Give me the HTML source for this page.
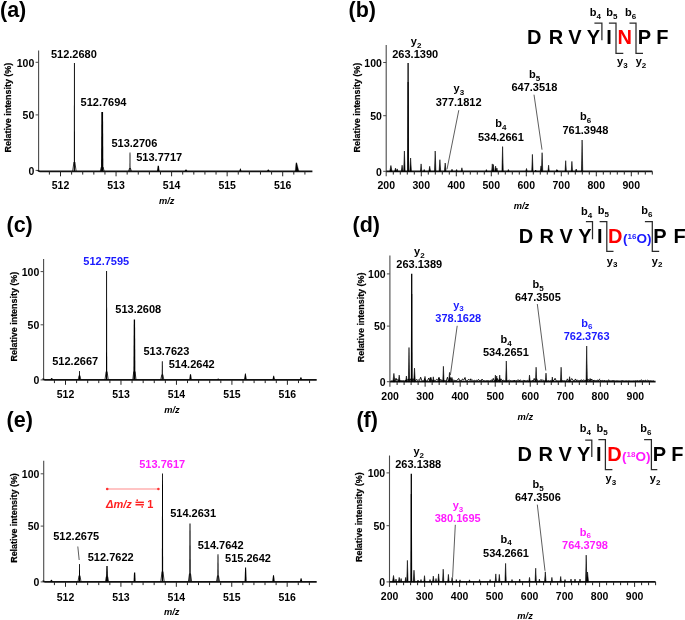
<!DOCTYPE html>
<html><head><meta charset="utf-8"><style>
html,body{margin:0;padding:0;background:#fff;width:685px;height:620px;overflow:hidden}
svg{display:block;will-change:transform}
text{font-family:"Liberation Sans", sans-serif}
</style></head><body>
<svg width="685" height="620" viewBox="0 0 685 620">
<rect width="685" height="620" fill="#fff"/>
<text x="0.00" y="16.60" font-size="21.5" text-anchor="start" fill="#000" font-weight="bold" font-style="normal" >(a)</text>
<line x1="38.60" y1="50.40" x2="38.60" y2="171.30" stroke="#4a4a4a" stroke-width="1.1" />
<line x1="35.60" y1="62.30" x2="38.60" y2="62.30" stroke="#4a4a4a" stroke-width="1.0" />
<text x="34.30" y="66.60" font-size="10.5" text-anchor="end" fill="#000" font-weight="bold" font-style="normal" >100</text>
<line x1="35.60" y1="114.90" x2="38.60" y2="114.90" stroke="#4a4a4a" stroke-width="1.0" />
<text x="34.30" y="119.20" font-size="10.5" text-anchor="end" fill="#000" font-weight="bold" font-style="normal" >50</text>
<line x1="35.60" y1="170.40" x2="38.60" y2="170.40" stroke="#4a4a4a" stroke-width="1.0" />
<text x="34.30" y="174.70" font-size="10.5" text-anchor="end" fill="#000" font-weight="bold" font-style="normal" >0</text>
<path d="M38.05 170.10 Q38.05 171.30 39.80 171.30 H312.40" stroke="#111" fill="none" stroke-width="1.7" />
<line x1="49.39" y1="171.30" x2="49.39" y2="174.60" stroke="#222" stroke-width="1.0" />
<line x1="60.50" y1="171.30" x2="60.50" y2="176.30" stroke="#222" stroke-width="1.0" />
<text x="60.50" y="188.90" font-size="10.5" text-anchor="middle" fill="#000" font-weight="bold" font-style="normal" >512</text>
<line x1="71.61" y1="171.30" x2="71.61" y2="174.60" stroke="#222" stroke-width="1.0" />
<line x1="82.72" y1="171.30" x2="82.72" y2="174.60" stroke="#222" stroke-width="1.0" />
<line x1="93.83" y1="171.30" x2="93.83" y2="174.60" stroke="#222" stroke-width="1.0" />
<line x1="104.94" y1="171.30" x2="104.94" y2="174.60" stroke="#222" stroke-width="1.0" />
<line x1="116.05" y1="171.30" x2="116.05" y2="176.30" stroke="#222" stroke-width="1.0" />
<text x="116.05" y="188.90" font-size="10.5" text-anchor="middle" fill="#000" font-weight="bold" font-style="normal" >513</text>
<line x1="127.16" y1="171.30" x2="127.16" y2="174.60" stroke="#222" stroke-width="1.0" />
<line x1="138.27" y1="171.30" x2="138.27" y2="174.60" stroke="#222" stroke-width="1.0" />
<line x1="149.38" y1="171.30" x2="149.38" y2="174.60" stroke="#222" stroke-width="1.0" />
<line x1="160.49" y1="171.30" x2="160.49" y2="174.60" stroke="#222" stroke-width="1.0" />
<line x1="171.60" y1="171.30" x2="171.60" y2="176.30" stroke="#222" stroke-width="1.0" />
<text x="171.60" y="188.90" font-size="10.5" text-anchor="middle" fill="#000" font-weight="bold" font-style="normal" >514</text>
<line x1="182.71" y1="171.30" x2="182.71" y2="174.60" stroke="#222" stroke-width="1.0" />
<line x1="193.82" y1="171.30" x2="193.82" y2="174.60" stroke="#222" stroke-width="1.0" />
<line x1="204.93" y1="171.30" x2="204.93" y2="174.60" stroke="#222" stroke-width="1.0" />
<line x1="216.04" y1="171.30" x2="216.04" y2="174.60" stroke="#222" stroke-width="1.0" />
<line x1="227.15" y1="171.30" x2="227.15" y2="176.30" stroke="#222" stroke-width="1.0" />
<text x="227.15" y="188.90" font-size="10.5" text-anchor="middle" fill="#000" font-weight="bold" font-style="normal" >515</text>
<line x1="238.26" y1="171.30" x2="238.26" y2="174.60" stroke="#222" stroke-width="1.0" />
<line x1="249.37" y1="171.30" x2="249.37" y2="174.60" stroke="#222" stroke-width="1.0" />
<line x1="260.48" y1="171.30" x2="260.48" y2="174.60" stroke="#222" stroke-width="1.0" />
<line x1="271.59" y1="171.30" x2="271.59" y2="174.60" stroke="#222" stroke-width="1.0" />
<line x1="282.70" y1="171.30" x2="282.70" y2="176.30" stroke="#222" stroke-width="1.0" />
<text x="282.70" y="188.90" font-size="10.5" text-anchor="middle" fill="#000" font-weight="bold" font-style="normal" >516</text>
<line x1="293.81" y1="171.30" x2="293.81" y2="174.60" stroke="#222" stroke-width="1.0" />
<line x1="304.92" y1="171.30" x2="304.92" y2="174.60" stroke="#222" stroke-width="1.0" />
<text x="-44.8" y="0" font-size="9.8" textLength="89.6" lengthAdjust="spacingAndGlyphs" font-weight="bold" stroke="#000" stroke-width="0.22" transform="translate(11.30,107.60) rotate(-90)">Relative intensity (%)</text>
<text x="166.70" y="203.70" font-size="9.3" text-anchor="middle" fill="#000" font-weight="bold" font-style="italic" >m/z</text>
<path d="M73.85 171.00 L73.95 63.10 L74.85 63.10 L74.95 171.00Z" fill="#000"/>
<path d="M72.70 171.00 L73.95 162.00 M76.10 171.00 L74.85 162.00" stroke="#000" stroke-width="0.8" fill="none"/>
<path d="M101.05 171.00 L101.35 112.10 L103.05 112.10 L103.35 171.00Z" fill="#000"/>
<path d="M100.30 171.00 L101.35 167.00 M104.10 171.00 L103.05 167.00" stroke="#000" stroke-width="0.8" fill="none"/>
<path d="M129.50 171.00 L129.60 152.60 L130.40 152.60 L130.50 171.00Z" fill="#000"/>
<path d="M128.70 171.00 L129.60 168.00 M131.30 171.00 L130.40 168.00" stroke="#000" stroke-width="0.8" fill="none"/>
<path d="M157.10 171.00 L157.70 165.80 L158.90 165.80 L159.50 171.00Z" fill="#000"/>
<path d="M184.70 171.00 L185.60 169.40 L186.40 169.40 L187.30 171.00Z" fill="#000"/>
<path d="M239.40 171.00 L240.10 168.40 L240.70 168.40 L241.40 171.00Z" fill="#000"/>
<path d="M267.00 171.00 L268.00 169.40 L268.60 169.40 L269.60 171.00Z" fill="#000"/>
<path d="M295.2 171.0 L296.0 162.7 L296.8 162.9 L298.8 171.0 Z" stroke="#000" fill="#000" stroke-width="0.3" />
<text x="73.90" y="57.80" font-size="11" text-anchor="middle" fill="#000" font-weight="bold" font-style="normal" >512.2680</text>
<text x="103.50" y="106.30" font-size="11" text-anchor="middle" fill="#000" font-weight="bold" font-style="normal" >512.7694</text>
<text x="134.40" y="146.90" font-size="11" text-anchor="middle" fill="#000" font-weight="bold" font-style="normal" >513.2706</text>
<text x="159.20" y="161.10" font-size="11" text-anchor="middle" fill="#000" font-weight="bold" font-style="normal" >513.7717</text>
<text x="348.50" y="16.60" font-size="21.5" text-anchor="start" fill="#000" font-weight="bold" font-style="normal" >(b)</text>
<line x1="386.20" y1="45.10" x2="386.20" y2="176.30" stroke="#4a4a4a" stroke-width="1.1" />
<line x1="383.20" y1="62.50" x2="386.20" y2="62.50" stroke="#4a4a4a" stroke-width="1.0" />
<text x="381.90" y="66.80" font-size="10.5" text-anchor="end" fill="#000" font-weight="bold" font-style="normal" >100</text>
<line x1="383.20" y1="115.70" x2="386.20" y2="115.70" stroke="#4a4a4a" stroke-width="1.0" />
<text x="381.90" y="120.00" font-size="10.5" text-anchor="end" fill="#000" font-weight="bold" font-style="normal" >50</text>
<line x1="383.20" y1="171.30" x2="386.20" y2="171.30" stroke="#4a4a4a" stroke-width="1.0" />
<text x="381.90" y="175.60" font-size="10.5" text-anchor="end" fill="#000" font-weight="bold" font-style="normal" >0</text>
<line x1="386.20" y1="171.30" x2="652.30" y2="171.30" stroke="#111" stroke-width="1.7" />
<text x="386.30" y="189.10" font-size="10.5" text-anchor="middle" fill="#000" font-weight="bold" font-style="normal" >200</text>
<line x1="393.30" y1="171.30" x2="393.30" y2="174.60" stroke="#222" stroke-width="1.0" />
<line x1="400.30" y1="171.30" x2="400.30" y2="174.60" stroke="#222" stroke-width="1.0" />
<line x1="407.30" y1="171.30" x2="407.30" y2="174.60" stroke="#222" stroke-width="1.0" />
<line x1="414.30" y1="171.30" x2="414.30" y2="174.60" stroke="#222" stroke-width="1.0" />
<line x1="421.30" y1="171.30" x2="421.30" y2="176.30" stroke="#222" stroke-width="1.0" />
<text x="421.30" y="189.10" font-size="10.5" text-anchor="middle" fill="#000" font-weight="bold" font-style="normal" >300</text>
<line x1="428.30" y1="171.30" x2="428.30" y2="174.60" stroke="#222" stroke-width="1.0" />
<line x1="435.30" y1="171.30" x2="435.30" y2="174.60" stroke="#222" stroke-width="1.0" />
<line x1="442.30" y1="171.30" x2="442.30" y2="174.60" stroke="#222" stroke-width="1.0" />
<line x1="449.30" y1="171.30" x2="449.30" y2="174.60" stroke="#222" stroke-width="1.0" />
<line x1="456.30" y1="171.30" x2="456.30" y2="176.30" stroke="#222" stroke-width="1.0" />
<text x="456.30" y="189.10" font-size="10.5" text-anchor="middle" fill="#000" font-weight="bold" font-style="normal" >400</text>
<line x1="463.30" y1="171.30" x2="463.30" y2="174.60" stroke="#222" stroke-width="1.0" />
<line x1="470.30" y1="171.30" x2="470.30" y2="174.60" stroke="#222" stroke-width="1.0" />
<line x1="477.30" y1="171.30" x2="477.30" y2="174.60" stroke="#222" stroke-width="1.0" />
<line x1="484.30" y1="171.30" x2="484.30" y2="174.60" stroke="#222" stroke-width="1.0" />
<line x1="491.30" y1="171.30" x2="491.30" y2="176.30" stroke="#222" stroke-width="1.0" />
<text x="491.30" y="189.10" font-size="10.5" text-anchor="middle" fill="#000" font-weight="bold" font-style="normal" >500</text>
<line x1="498.30" y1="171.30" x2="498.30" y2="174.60" stroke="#222" stroke-width="1.0" />
<line x1="505.30" y1="171.30" x2="505.30" y2="174.60" stroke="#222" stroke-width="1.0" />
<line x1="512.30" y1="171.30" x2="512.30" y2="174.60" stroke="#222" stroke-width="1.0" />
<line x1="519.30" y1="171.30" x2="519.30" y2="174.60" stroke="#222" stroke-width="1.0" />
<line x1="526.30" y1="171.30" x2="526.30" y2="176.30" stroke="#222" stroke-width="1.0" />
<text x="526.30" y="189.10" font-size="10.5" text-anchor="middle" fill="#000" font-weight="bold" font-style="normal" >600</text>
<line x1="533.30" y1="171.30" x2="533.30" y2="174.60" stroke="#222" stroke-width="1.0" />
<line x1="540.30" y1="171.30" x2="540.30" y2="174.60" stroke="#222" stroke-width="1.0" />
<line x1="547.30" y1="171.30" x2="547.30" y2="174.60" stroke="#222" stroke-width="1.0" />
<line x1="554.30" y1="171.30" x2="554.30" y2="174.60" stroke="#222" stroke-width="1.0" />
<line x1="561.30" y1="171.30" x2="561.30" y2="176.30" stroke="#222" stroke-width="1.0" />
<text x="561.30" y="189.10" font-size="10.5" text-anchor="middle" fill="#000" font-weight="bold" font-style="normal" >700</text>
<line x1="568.30" y1="171.30" x2="568.30" y2="174.60" stroke="#222" stroke-width="1.0" />
<line x1="575.30" y1="171.30" x2="575.30" y2="174.60" stroke="#222" stroke-width="1.0" />
<line x1="582.30" y1="171.30" x2="582.30" y2="174.60" stroke="#222" stroke-width="1.0" />
<line x1="589.30" y1="171.30" x2="589.30" y2="174.60" stroke="#222" stroke-width="1.0" />
<line x1="596.30" y1="171.30" x2="596.30" y2="176.30" stroke="#222" stroke-width="1.0" />
<text x="596.30" y="189.10" font-size="10.5" text-anchor="middle" fill="#000" font-weight="bold" font-style="normal" >800</text>
<line x1="603.30" y1="171.30" x2="603.30" y2="174.60" stroke="#222" stroke-width="1.0" />
<line x1="610.30" y1="171.30" x2="610.30" y2="174.60" stroke="#222" stroke-width="1.0" />
<line x1="617.30" y1="171.30" x2="617.30" y2="174.60" stroke="#222" stroke-width="1.0" />
<line x1="624.30" y1="171.30" x2="624.30" y2="174.60" stroke="#222" stroke-width="1.0" />
<line x1="631.30" y1="171.30" x2="631.30" y2="176.30" stroke="#222" stroke-width="1.0" />
<text x="631.30" y="189.10" font-size="10.5" text-anchor="middle" fill="#000" font-weight="bold" font-style="normal" >900</text>
<line x1="638.30" y1="171.30" x2="638.30" y2="174.60" stroke="#222" stroke-width="1.0" />
<line x1="645.30" y1="171.30" x2="645.30" y2="174.60" stroke="#222" stroke-width="1.0" />
<line x1="652.30" y1="171.30" x2="652.30" y2="174.60" stroke="#222" stroke-width="1.0" />
<text x="-44.8" y="0" font-size="9.8" textLength="89.6" lengthAdjust="spacingAndGlyphs" font-weight="bold" stroke="#000" stroke-width="0.22" transform="translate(359.60,107.60) rotate(-90)">Relative intensity (%)</text>
<text x="521.50" y="209.30" font-size="9.3" text-anchor="middle" fill="#000" font-weight="bold" font-style="italic" >m/z</text>
<path d="M389.80 171.30 L390.90 165.50 L392.00 171.30Z" fill="#000" stroke="#000" stroke-width="0.6" stroke-linejoin="miter"/>
<path d="M394.70 171.30 L395.50 168.10 L396.30 171.30Z" fill="#000" stroke="#000" stroke-width="0.6" stroke-linejoin="miter"/>
<path d="M396.50 171.30 L397.20 168.90 L397.90 171.30Z" fill="#000" stroke="#000" stroke-width="0.6" stroke-linejoin="miter"/>
<path d="M401.30 171.30 L402.10 165.20 L402.90 171.30Z" fill="#000" stroke="#000" stroke-width="0.6" stroke-linejoin="miter"/>
<path d="M403.70 171.30 L404.40 151.00 L405.10 171.30Z" fill="#000" stroke="#000" stroke-width="0.6" stroke-linejoin="miter"/>
<path d="M409.80 171.30 L410.60 158.00 L411.40 171.30Z" fill="#000" stroke="#000" stroke-width="0.6" stroke-linejoin="miter"/>
<path d="M420.45 171.30 L421.10 163.90 L421.75 171.30Z" fill="#000" stroke="#000" stroke-width="0.6" stroke-linejoin="miter"/>
<path d="M423.60 171.30 L424.20 169.50 L424.80 171.30Z" fill="#000" stroke="#000" stroke-width="0.6" stroke-linejoin="miter"/>
<path d="M428.90 171.30 L429.70 166.30 L430.50 171.30Z" fill="#000" stroke="#000" stroke-width="0.6" stroke-linejoin="miter"/>
<path d="M434.50 171.30 L435.20 151.00 L435.90 171.30Z" fill="#000" stroke="#000" stroke-width="0.6" stroke-linejoin="miter"/>
<path d="M439.10 171.30 L439.90 159.70 L440.70 171.30Z" fill="#000" stroke="#000" stroke-width="0.6" stroke-linejoin="miter"/>
<path d="M444.40 171.30 L445.20 163.00 L446.00 171.30Z" fill="#000" stroke="#000" stroke-width="0.6" stroke-linejoin="miter"/>
<path d="M451.40 171.30 L452.00 169.20 L452.60 171.30Z" fill="#000" stroke="#000" stroke-width="0.6" stroke-linejoin="miter"/>
<path d="M456.00 171.30 L456.60 169.50 L457.20 171.30Z" fill="#000" stroke="#000" stroke-width="0.6" stroke-linejoin="miter"/>
<path d="M461.20 171.30 L461.90 167.80 L462.60 171.30Z" fill="#000" stroke="#000" stroke-width="0.6" stroke-linejoin="miter"/>
<path d="M485.80 171.30 L486.40 169.60 L487.00 171.30Z" fill="#000" stroke="#000" stroke-width="0.6" stroke-linejoin="miter"/>
<path d="M491.65 171.30 L492.30 163.90 L492.95 171.30Z" fill="#000" stroke="#000" stroke-width="0.6" stroke-linejoin="miter"/>
<path d="M492.80 171.30 L493.40 164.50 L494.00 171.30Z" fill="#000" stroke="#000" stroke-width="0.6" stroke-linejoin="miter"/>
<path d="M494.80 171.30 L495.60 166.10 L496.40 171.30Z" fill="#000" stroke="#000" stroke-width="0.6" stroke-linejoin="miter"/>
<path d="M496.30 171.30 L496.90 168.00 L497.50 171.30Z" fill="#000" stroke="#000" stroke-width="0.6" stroke-linejoin="miter"/>
<path d="M501.95 171.30 L502.60 146.60 L503.25 171.30Z" fill="#000" stroke="#000" stroke-width="0.6" stroke-linejoin="miter"/>
<path d="M507.80 171.30 L508.40 169.50 L509.00 171.30Z" fill="#000" stroke="#000" stroke-width="0.6" stroke-linejoin="miter"/>
<path d="M525.80 171.30 L526.50 168.50 L527.20 171.30Z" fill="#000" stroke="#000" stroke-width="0.6" stroke-linejoin="miter"/>
<path d="M531.75 171.30 L532.40 154.40 L533.05 171.30Z" fill="#000" stroke="#000" stroke-width="0.6" stroke-linejoin="miter"/>
<path d="M535.20 171.30 L535.70 170.00 L536.20 171.30Z" fill="#000" stroke="#000" stroke-width="0.6" stroke-linejoin="miter"/>
<path d="M540.30 171.30 L541.00 165.90 L541.70 171.30Z" fill="#000" stroke="#000" stroke-width="0.6" stroke-linejoin="miter"/>
<path d="M541.45 171.30 L542.10 152.70 L542.75 171.30Z" fill="#000" stroke="#000" stroke-width="0.6" stroke-linejoin="miter"/>
<path d="M547.95 171.30 L548.60 165.20 L549.25 171.30Z" fill="#000" stroke="#000" stroke-width="0.6" stroke-linejoin="miter"/>
<path d="M556.80 171.30 L557.40 170.00 L558.00 171.30Z" fill="#000" stroke="#000" stroke-width="0.6" stroke-linejoin="miter"/>
<path d="M556.20 171.30 L556.80 169.50 L557.40 171.30Z" fill="#000" stroke="#000" stroke-width="0.6" stroke-linejoin="miter"/>
<path d="M565.05 171.30 L565.70 160.70 L566.35 171.30Z" fill="#000" stroke="#000" stroke-width="0.6" stroke-linejoin="miter"/>
<path d="M571.25 171.30 L571.90 161.40 L572.55 171.30Z" fill="#000" stroke="#000" stroke-width="0.6" stroke-linejoin="miter"/>
<path d="M575.50 171.30 L576.20 169.00 L576.90 171.30Z" fill="#000" stroke="#000" stroke-width="0.6" stroke-linejoin="miter"/>
<path d="M581.45 171.30 L582.10 140.00 L582.75 171.30Z" fill="#000" stroke="#000" stroke-width="0.6" stroke-linejoin="miter"/>
<path d="M407.45 171.30 L407.45 63.00 L408.75 63.00 L408.75 171.30Z" fill="#000"/>
<path d="M407.60 171.30 L408.10 82.00 L408.60 171.30Z" fill="#000" stroke="#000" stroke-width="0.6" stroke-linejoin="miter"/>
<text x="416.10" y="45.00" font-size="11" text-anchor="middle" fill="#000" font-weight="bold">y<tspan font-size="8" dy="2.8">2</tspan></text>
<text x="415.20" y="57.90" font-size="11" text-anchor="middle" fill="#000" font-weight="bold" font-style="normal" >263.1390</text>
<text x="458.90" y="91.90" font-size="11" text-anchor="middle" fill="#000" font-weight="bold">y<tspan font-size="8" dy="2.8">3</tspan></text>
<text x="458.60" y="105.50" font-size="11" text-anchor="middle" fill="#000" font-weight="bold" font-style="normal" >377.1812</text>
<line x1="458.80" y1="110.20" x2="447.00" y2="169.30" stroke="#333" stroke-width="0.8" />
<text x="500.90" y="127.10" font-size="11" text-anchor="middle" fill="#000" font-weight="bold">b<tspan font-size="8" dy="2.8">4</tspan></text>
<text x="500.90" y="141.00" font-size="11" text-anchor="middle" fill="#000" font-weight="bold" font-style="normal" >534.2661</text>
<text x="534.60" y="77.80" font-size="11" text-anchor="middle" fill="#000" font-weight="bold">b<tspan font-size="8" dy="2.8">5</tspan></text>
<text x="534.40" y="90.60" font-size="11" text-anchor="middle" fill="#000" font-weight="bold" font-style="normal" >647.3518</text>
<line x1="534.00" y1="94.70" x2="542.00" y2="149.70" stroke="#333" stroke-width="0.8" />
<text x="585.60" y="120.40" font-size="11" text-anchor="middle" fill="#000" font-weight="bold">b<tspan font-size="8" dy="2.8">6</tspan></text>
<text x="585.40" y="133.70" font-size="11" text-anchor="middle" fill="#000" font-weight="bold" font-style="normal" >761.3948</text>
<text x="6.50" y="232.00" font-size="21.5" text-anchor="start" fill="#000" font-weight="bold" font-style="normal" >(c)</text>
<line x1="43.60" y1="258.90" x2="43.60" y2="379.80" stroke="#4a4a4a" stroke-width="1.1" />
<line x1="40.60" y1="271.60" x2="43.60" y2="271.60" stroke="#4a4a4a" stroke-width="1.0" />
<text x="39.30" y="275.90" font-size="10.5" text-anchor="end" fill="#000" font-weight="bold" font-style="normal" >100</text>
<line x1="40.60" y1="324.80" x2="43.60" y2="324.80" stroke="#4a4a4a" stroke-width="1.0" />
<text x="39.30" y="329.10" font-size="10.5" text-anchor="end" fill="#000" font-weight="bold" font-style="normal" >50</text>
<line x1="40.60" y1="379.90" x2="43.60" y2="379.90" stroke="#4a4a4a" stroke-width="1.0" />
<text x="39.30" y="384.20" font-size="10.5" text-anchor="end" fill="#000" font-weight="bold" font-style="normal" >0</text>
<path d="M43.05 378.60 Q43.05 379.80 44.80 379.80 H316.70" stroke="#111" fill="none" stroke-width="1.7" />
<line x1="54.41" y1="379.80" x2="54.41" y2="383.10" stroke="#222" stroke-width="1.0" />
<line x1="65.50" y1="379.80" x2="65.50" y2="384.80" stroke="#222" stroke-width="1.0" />
<text x="65.50" y="398.40" font-size="10.5" text-anchor="middle" fill="#000" font-weight="bold" font-style="normal" >512</text>
<line x1="76.59" y1="379.80" x2="76.59" y2="383.10" stroke="#222" stroke-width="1.0" />
<line x1="87.69" y1="379.80" x2="87.69" y2="383.10" stroke="#222" stroke-width="1.0" />
<line x1="98.78" y1="379.80" x2="98.78" y2="383.10" stroke="#222" stroke-width="1.0" />
<line x1="109.88" y1="379.80" x2="109.88" y2="383.10" stroke="#222" stroke-width="1.0" />
<line x1="120.97" y1="379.80" x2="120.97" y2="384.80" stroke="#222" stroke-width="1.0" />
<text x="120.97" y="398.40" font-size="10.5" text-anchor="middle" fill="#000" font-weight="bold" font-style="normal" >513</text>
<line x1="132.06" y1="379.80" x2="132.06" y2="383.10" stroke="#222" stroke-width="1.0" />
<line x1="143.16" y1="379.80" x2="143.16" y2="383.10" stroke="#222" stroke-width="1.0" />
<line x1="154.25" y1="379.80" x2="154.25" y2="383.10" stroke="#222" stroke-width="1.0" />
<line x1="165.35" y1="379.80" x2="165.35" y2="383.10" stroke="#222" stroke-width="1.0" />
<line x1="176.44" y1="379.80" x2="176.44" y2="384.80" stroke="#222" stroke-width="1.0" />
<text x="176.44" y="398.40" font-size="10.5" text-anchor="middle" fill="#000" font-weight="bold" font-style="normal" >514</text>
<line x1="187.53" y1="379.80" x2="187.53" y2="383.10" stroke="#222" stroke-width="1.0" />
<line x1="198.63" y1="379.80" x2="198.63" y2="383.10" stroke="#222" stroke-width="1.0" />
<line x1="209.72" y1="379.80" x2="209.72" y2="383.10" stroke="#222" stroke-width="1.0" />
<line x1="220.82" y1="379.80" x2="220.82" y2="383.10" stroke="#222" stroke-width="1.0" />
<line x1="231.91" y1="379.80" x2="231.91" y2="384.80" stroke="#222" stroke-width="1.0" />
<text x="231.91" y="398.40" font-size="10.5" text-anchor="middle" fill="#000" font-weight="bold" font-style="normal" >515</text>
<line x1="243.00" y1="379.80" x2="243.00" y2="383.10" stroke="#222" stroke-width="1.0" />
<line x1="254.10" y1="379.80" x2="254.10" y2="383.10" stroke="#222" stroke-width="1.0" />
<line x1="265.19" y1="379.80" x2="265.19" y2="383.10" stroke="#222" stroke-width="1.0" />
<line x1="276.29" y1="379.80" x2="276.29" y2="383.10" stroke="#222" stroke-width="1.0" />
<line x1="287.38" y1="379.80" x2="287.38" y2="384.80" stroke="#222" stroke-width="1.0" />
<text x="287.38" y="398.40" font-size="10.5" text-anchor="middle" fill="#000" font-weight="bold" font-style="normal" >516</text>
<line x1="298.47" y1="379.80" x2="298.47" y2="383.10" stroke="#222" stroke-width="1.0" />
<line x1="309.57" y1="379.80" x2="309.57" y2="383.10" stroke="#222" stroke-width="1.0" />
<text x="-44.8" y="0" font-size="9.8" textLength="89.6" lengthAdjust="spacingAndGlyphs" font-weight="bold" stroke="#000" stroke-width="0.22" transform="translate(16.70,316.60) rotate(-90)">Relative intensity (%)</text>
<text x="171.90" y="412.70" font-size="9.3" text-anchor="middle" fill="#000" font-weight="bold" font-style="italic" >m/z</text>
<path d="M50.20 379.50 L51.45 378.00 L51.95 378.00 L53.20 379.50Z" fill="#000"/>
<path d="M78.95 379.50 L79.10 371.00 L79.90 371.00 L80.05 379.50Z" fill="#000"/>
<path d="M78.20 379.50 L79.10 375.50 M80.80 379.50 L79.90 375.50" stroke="#000" stroke-width="0.8" fill="none"/>
<path d="M106.00 379.50 L106.15 270.90 L107.05 270.90 L107.20 379.50Z" fill="#000"/>
<path d="M105.00 379.50 L106.15 371.50 M108.20 379.50 L107.05 371.50" stroke="#000" stroke-width="0.8" fill="none"/>
<path d="M133.40 379.50 L133.75 319.40 L135.05 319.40 L135.40 379.50Z" fill="#000"/>
<path d="M132.80 379.50 L133.75 371.50 M136.00 379.50 L135.05 371.50" stroke="#000" stroke-width="0.8" fill="none"/>
<path d="M161.70 379.50 L161.85 361.20 L162.75 361.20 L162.90 379.50Z" fill="#000"/>
<path d="M160.80 379.50 L161.85 374.50 M163.80 379.50 L162.75 374.50" stroke="#000" stroke-width="0.8" fill="none"/>
<path d="M189.30 379.50 L190.00 374.30 L191.00 374.30 L191.70 379.50Z" fill="#000"/>
<path d="M217.20 379.50 L217.90 378.50 L218.50 378.50 L219.20 379.50Z" fill="#000"/>
<path d="M244.10 379.50 L245.00 373.50 L245.80 373.50 L246.70 379.50Z" fill="#000"/>
<path d="M272.50 379.50 L273.30 375.70 L274.10 375.70 L274.90 379.50Z" fill="#000"/>
<path d="M299.70 379.50 L300.50 377.20 L301.30 377.20 L302.10 379.50Z" fill="#000"/>
<text x="106.30" y="264.80" font-size="11" text-anchor="middle" fill="#1a1aff" font-weight="bold" font-style="normal" >512.7595</text>
<text x="138.30" y="313.30" font-size="11" text-anchor="middle" fill="#000" font-weight="bold" font-style="normal" >513.2608</text>
<text x="75.20" y="364.90" font-size="11" text-anchor="middle" fill="#000" font-weight="bold" font-style="normal" >512.2667</text>
<text x="166.40" y="354.90" font-size="11" text-anchor="middle" fill="#000" font-weight="bold" font-style="normal" >513.7623</text>
<text x="191.70" y="368.20" font-size="11" text-anchor="middle" fill="#000" font-weight="bold" font-style="normal" >514.2642</text>
<text x="352.50" y="232.20" font-size="21.5" text-anchor="start" fill="#000" font-weight="bold" font-style="normal" >(d)</text>
<line x1="389.90" y1="255.50" x2="389.90" y2="386.70" stroke="#4a4a4a" stroke-width="1.1" />
<line x1="386.90" y1="273.90" x2="389.90" y2="273.90" stroke="#4a4a4a" stroke-width="1.0" />
<text x="385.60" y="278.20" font-size="10.5" text-anchor="end" fill="#000" font-weight="bold" font-style="normal" >100</text>
<line x1="386.90" y1="326.10" x2="389.90" y2="326.10" stroke="#4a4a4a" stroke-width="1.0" />
<text x="385.60" y="330.40" font-size="10.5" text-anchor="end" fill="#000" font-weight="bold" font-style="normal" >50</text>
<line x1="386.90" y1="381.70" x2="389.90" y2="381.70" stroke="#4a4a4a" stroke-width="1.0" />
<text x="385.60" y="386.00" font-size="10.5" text-anchor="end" fill="#000" font-weight="bold" font-style="normal" >0</text>
<line x1="389.90" y1="381.70" x2="655.60" y2="381.70" stroke="#111" stroke-width="1.7" />
<text x="390.10" y="399.50" font-size="10.5" text-anchor="middle" fill="#000" font-weight="bold" font-style="normal" >200</text>
<line x1="397.11" y1="381.70" x2="397.11" y2="385.00" stroke="#222" stroke-width="1.0" />
<line x1="404.12" y1="381.70" x2="404.12" y2="385.00" stroke="#222" stroke-width="1.0" />
<line x1="411.12" y1="381.70" x2="411.12" y2="385.00" stroke="#222" stroke-width="1.0" />
<line x1="418.13" y1="381.70" x2="418.13" y2="385.00" stroke="#222" stroke-width="1.0" />
<line x1="425.14" y1="381.70" x2="425.14" y2="386.70" stroke="#222" stroke-width="1.0" />
<text x="425.14" y="399.50" font-size="10.5" text-anchor="middle" fill="#000" font-weight="bold" font-style="normal" >300</text>
<line x1="432.15" y1="381.70" x2="432.15" y2="385.00" stroke="#222" stroke-width="1.0" />
<line x1="439.16" y1="381.70" x2="439.16" y2="385.00" stroke="#222" stroke-width="1.0" />
<line x1="446.16" y1="381.70" x2="446.16" y2="385.00" stroke="#222" stroke-width="1.0" />
<line x1="453.17" y1="381.70" x2="453.17" y2="385.00" stroke="#222" stroke-width="1.0" />
<line x1="460.18" y1="381.70" x2="460.18" y2="386.70" stroke="#222" stroke-width="1.0" />
<text x="460.18" y="399.50" font-size="10.5" text-anchor="middle" fill="#000" font-weight="bold" font-style="normal" >400</text>
<line x1="467.19" y1="381.70" x2="467.19" y2="385.00" stroke="#222" stroke-width="1.0" />
<line x1="474.20" y1="381.70" x2="474.20" y2="385.00" stroke="#222" stroke-width="1.0" />
<line x1="481.20" y1="381.70" x2="481.20" y2="385.00" stroke="#222" stroke-width="1.0" />
<line x1="488.21" y1="381.70" x2="488.21" y2="385.00" stroke="#222" stroke-width="1.0" />
<line x1="495.22" y1="381.70" x2="495.22" y2="386.70" stroke="#222" stroke-width="1.0" />
<text x="495.22" y="399.50" font-size="10.5" text-anchor="middle" fill="#000" font-weight="bold" font-style="normal" >500</text>
<line x1="502.23" y1="381.70" x2="502.23" y2="385.00" stroke="#222" stroke-width="1.0" />
<line x1="509.24" y1="381.70" x2="509.24" y2="385.00" stroke="#222" stroke-width="1.0" />
<line x1="516.24" y1="381.70" x2="516.24" y2="385.00" stroke="#222" stroke-width="1.0" />
<line x1="523.25" y1="381.70" x2="523.25" y2="385.00" stroke="#222" stroke-width="1.0" />
<line x1="530.26" y1="381.70" x2="530.26" y2="386.70" stroke="#222" stroke-width="1.0" />
<text x="530.26" y="399.50" font-size="10.5" text-anchor="middle" fill="#000" font-weight="bold" font-style="normal" >600</text>
<line x1="537.27" y1="381.70" x2="537.27" y2="385.00" stroke="#222" stroke-width="1.0" />
<line x1="544.28" y1="381.70" x2="544.28" y2="385.00" stroke="#222" stroke-width="1.0" />
<line x1="551.28" y1="381.70" x2="551.28" y2="385.00" stroke="#222" stroke-width="1.0" />
<line x1="558.29" y1="381.70" x2="558.29" y2="385.00" stroke="#222" stroke-width="1.0" />
<line x1="565.30" y1="381.70" x2="565.30" y2="386.70" stroke="#222" stroke-width="1.0" />
<text x="565.30" y="399.50" font-size="10.5" text-anchor="middle" fill="#000" font-weight="bold" font-style="normal" >700</text>
<line x1="572.31" y1="381.70" x2="572.31" y2="385.00" stroke="#222" stroke-width="1.0" />
<line x1="579.32" y1="381.70" x2="579.32" y2="385.00" stroke="#222" stroke-width="1.0" />
<line x1="586.32" y1="381.70" x2="586.32" y2="385.00" stroke="#222" stroke-width="1.0" />
<line x1="593.33" y1="381.70" x2="593.33" y2="385.00" stroke="#222" stroke-width="1.0" />
<line x1="600.34" y1="381.70" x2="600.34" y2="386.70" stroke="#222" stroke-width="1.0" />
<text x="600.34" y="399.50" font-size="10.5" text-anchor="middle" fill="#000" font-weight="bold" font-style="normal" >800</text>
<line x1="607.35" y1="381.70" x2="607.35" y2="385.00" stroke="#222" stroke-width="1.0" />
<line x1="614.36" y1="381.70" x2="614.36" y2="385.00" stroke="#222" stroke-width="1.0" />
<line x1="621.36" y1="381.70" x2="621.36" y2="385.00" stroke="#222" stroke-width="1.0" />
<line x1="628.37" y1="381.70" x2="628.37" y2="385.00" stroke="#222" stroke-width="1.0" />
<line x1="635.38" y1="381.70" x2="635.38" y2="386.70" stroke="#222" stroke-width="1.0" />
<text x="635.38" y="399.50" font-size="10.5" text-anchor="middle" fill="#000" font-weight="bold" font-style="normal" >900</text>
<line x1="642.39" y1="381.70" x2="642.39" y2="385.00" stroke="#222" stroke-width="1.0" />
<line x1="649.40" y1="381.70" x2="649.40" y2="385.00" stroke="#222" stroke-width="1.0" />
<text x="-44.8" y="0" font-size="9.8" textLength="89.6" lengthAdjust="spacingAndGlyphs" font-weight="bold" stroke="#000" stroke-width="0.22" transform="translate(363.70,317.40) rotate(-90)">Relative intensity (%)</text>
<text x="525.30" y="419.90" font-size="9.3" text-anchor="middle" fill="#000" font-weight="bold" font-style="italic" >m/z</text>
<path d="M391.00 381.02 L392.09 381.14 L393.11 381.13 L394.12 381.18 L395.08 381.09 L396.03 378.25 L396.81 380.45 L398.07 379.54 L399.01 381.14 L400.23 380.65 L401.01 380.83 L402.20 380.94 L403.25 380.75 L404.28 381.15 L405.02 380.38 L405.97 380.57 L407.02 380.84 L408.20 378.94 L409.05 380.57 L410.27 378.79 L411.15 381.06 L412.10 378.64 L412.89 381.15 L413.99 378.60 L415.03 380.82 L416.15 379.46 L417.20 380.19 L418.46 379.99 L419.56 380.36 L420.65 377.24 L421.84 380.74 L422.95 381.19 L423.92 381.06 L424.66 378.58 L425.44 380.73 L426.66 381.13 L427.63 380.14 L428.82 378.03 L429.69 380.77 L430.92 377.47 L431.71 380.92 L432.55 379.94 L433.60 381.20 L434.55 380.39 L435.59 380.37 L436.60 379.35 L437.71 380.12 L438.88 377.97 L440.05 380.72 L440.82 379.27 L441.55 380.95 L442.35 380.49 L443.08 381.02 L443.84 380.41 L444.56 380.46 L445.35 380.76 L446.26 381.05 L447.47 377.24 L448.45 381.10 L449.21 380.48 L450.07 381.01 L450.78 377.51 L451.80 380.55 L452.51 379.76 L453.80 380.36 L454.66 380.40 L455.46 380.56 L456.62 380.52 L457.46 380.02 L458.67 378.37 L459.86 380.93 L460.87 380.44 L461.59 380.86 L462.44 378.98 L463.72 380.08 L465.01 377.48 L465.93 380.93 L466.75 380.88 L467.82 380.19 L468.81 379.18 L469.99 380.41" stroke="#000" stroke-width="0.9" fill="none" stroke-linejoin="round"/>
<path d="M470.00 380.86 L470.78 378.81 L471.49 380.39 L472.24 380.03 L473.31 380.86 L474.43 380.36 L475.56 380.99 L476.33 380.19 L477.58 380.50 L478.51 379.32 L479.27 380.59 L480.41 380.45 L481.16 381.01 L482.03 379.06 L482.85 380.41 L483.58 380.57 L484.58 380.82 L485.82 381.11 L486.88 380.68 L488.12 380.97 L488.82 380.71 L489.53 381.14 L490.53 380.82 L491.47 379.74 L492.23 381.04 L493.29 378.40 L494.02 380.65 L494.81 380.83 L496.11 381.09 L497.23 378.43 L498.08 381.16 L499.00 379.60 L500.05 381.12 L500.96 378.83 L502.01 380.84 L503.30 379.96 L504.01 380.90 L504.97 380.95 L505.94 381.12 L507.02 381.12 L508.19 380.50 L509.37 380.22 L510.50 380.54 L511.45 380.91 L512.73 380.86 L513.95 380.59 L515.05 380.44 L515.90 381.17 L517.19 380.35 L518.48 379.85 L519.19 381.01 L520.12 379.83 L521.40 381.07 L522.44 381.07 L523.19 380.57 L523.93 380.36 L525.05 380.86 L526.28 381.03 L527.41 380.41 L528.41 381.13 L529.14 381.04 L530.21 381.14 L531.38 381.19 L532.19 380.34 L533.22 381.04 L534.21 378.45 L535.23 381.17 L536.53 378.71 L537.56 380.72 L538.80 381.16 L539.89 380.93 L541.02 379.42 L541.79 380.79 L542.78 379.74 L543.51 380.86 L544.74 380.91 L545.93 380.64 L547.16 381.19 L548.22 380.59 L549.16 381.16 L549.97 381.04 L550.71 380.63 L551.69 381.18 L552.86 380.68 L554.03 380.34 L555.08 378.31 L556.38 381.10 L557.28 380.91 L558.45 381.00 L559.22 381.10 L560.48 380.86 L561.63 380.31 L562.64 380.63 L563.48 380.86 L564.49 380.80 L565.76 381.19 L566.52 381.15 L567.37 378.88 L568.43 381.15 L569.30 380.76 L570.48 380.49 L571.72 378.53 L572.95 380.33 L573.70 380.72 L574.55 380.76 L575.46 378.94 L576.40 380.95 L577.38 379.84 L578.42 381.03 L579.36 380.70 L580.16 381.03 L581.29 379.66 L582.07 380.90 L583.04 379.85 L584.20 380.54 L585.02 380.07 L585.92 380.70 L586.91 378.81 L587.80 380.74 L588.56 379.44 L589.43 381.14 L590.14 378.57 L590.86 381.05 L591.62 379.00 L592.92 380.84 L594.15 380.19 L594.93 380.88 L595.79 380.71 L596.72 380.65 L597.94 379.98 L598.65 381.18 L599.64 378.82" stroke="#000" stroke-width="0.9" fill="none" stroke-linejoin="round"/>
<path d="M600.00 380.77 L600.85 380.34 L601.68 380.75 L602.59 380.46 L603.66 380.98 L604.56 380.09 L605.39 381.19 L606.33 380.84 L607.70 381.15 L608.64 379.72 L609.45 381.03 L610.66 380.93 L611.88 380.91 L613.25 380.57 L614.11 380.77 L615.20 381.09 L616.60 380.87 L617.95 381.00 L618.96 381.14 L620.23 381.16 L621.46 380.77 L622.78 380.70 L623.68 380.96 L624.79 381.18 L626.15 380.88 L627.07 381.04 L627.85 381.08 L628.90 380.89 L630.22 381.12 L631.25 381.12 L632.46 381.11 L633.73 380.98 L634.51 381.05 L635.39 380.80 L636.32 381.00 L637.36 380.56 L638.32 381.16 L639.16 380.67 L640.17 380.97 L641.41 379.75 L642.22 381.14 L643.25 380.58 L644.51 380.77 L645.28 380.07 L646.19 381.19 L647.59 380.23 L649.02 381.12 L650.43 380.79 L651.25 380.98 L652.34 381.12 L653.19 381.00 L654.04 380.80" stroke="#000" stroke-width="0.9" fill="none" stroke-linejoin="round"/>
<path d="M392.90 381.70 L393.90 373.40 L394.90 381.70Z" fill="#000" stroke="#000" stroke-width="0.6" stroke-linejoin="miter"/>
<path d="M398.40 381.70 L399.20 375.10 L400.00 381.70Z" fill="#000" stroke="#000" stroke-width="0.6" stroke-linejoin="miter"/>
<path d="M405.60 381.70 L406.40 376.00 L407.20 381.70Z" fill="#000" stroke="#000" stroke-width="0.6" stroke-linejoin="miter"/>
<path d="M408.35 381.70 L409.00 347.50 L409.65 381.70Z" fill="#000" stroke="#000" stroke-width="0.6" stroke-linejoin="miter"/>
<path d="M413.70 381.70 L414.50 368.10 L415.30 381.70Z" fill="#000" stroke="#000" stroke-width="0.6" stroke-linejoin="miter"/>
<path d="M424.30 381.70 L425.00 376.40 L425.70 381.70Z" fill="#000" stroke="#000" stroke-width="0.6" stroke-linejoin="miter"/>
<path d="M429.70 381.70 L430.30 377.50 L430.90 381.70Z" fill="#000" stroke="#000" stroke-width="0.6" stroke-linejoin="miter"/>
<path d="M432.60 381.70 L433.30 376.80 L434.00 381.70Z" fill="#000" stroke="#000" stroke-width="0.6" stroke-linejoin="miter"/>
<path d="M438.30 381.70 L439.00 377.00 L439.70 381.70Z" fill="#000" stroke="#000" stroke-width="0.6" stroke-linejoin="miter"/>
<path d="M442.75 381.70 L443.40 366.30 L444.05 381.70Z" fill="#000" stroke="#000" stroke-width="0.6" stroke-linejoin="miter"/>
<path d="M448.70 381.70 L449.50 372.40 L450.30 381.70Z" fill="#000" stroke="#000" stroke-width="0.6" stroke-linejoin="miter"/>
<path d="M451.40 381.70 L452.00 377.50 L452.60 381.70Z" fill="#000" stroke="#000" stroke-width="0.6" stroke-linejoin="miter"/>
<path d="M494.70 381.70 L495.40 375.10 L496.10 381.70Z" fill="#000" stroke="#000" stroke-width="0.6" stroke-linejoin="miter"/>
<path d="M496.10 381.70 L496.70 376.00 L497.30 381.70Z" fill="#000" stroke="#000" stroke-width="0.6" stroke-linejoin="miter"/>
<path d="M499.00 381.70 L499.70 375.10 L500.40 381.70Z" fill="#000" stroke="#000" stroke-width="0.6" stroke-linejoin="miter"/>
<path d="M505.65 381.70 L506.30 361.00 L506.95 381.70Z" fill="#000" stroke="#000" stroke-width="0.6" stroke-linejoin="miter"/>
<path d="M528.80 381.70 L529.50 375.10 L530.20 381.70Z" fill="#000" stroke="#000" stroke-width="0.6" stroke-linejoin="miter"/>
<path d="M535.45 381.70 L536.10 367.20 L536.75 381.70Z" fill="#000" stroke="#000" stroke-width="0.6" stroke-linejoin="miter"/>
<path d="M545.30 381.70 L546.00 373.10 L546.70 381.70Z" fill="#000" stroke="#000" stroke-width="0.6" stroke-linejoin="miter"/>
<path d="M551.65 381.70 L552.30 377.00 L552.95 381.70Z" fill="#000" stroke="#000" stroke-width="0.6" stroke-linejoin="miter"/>
<path d="M560.45 381.70 L561.10 367.20 L561.75 381.70Z" fill="#000" stroke="#000" stroke-width="0.6" stroke-linejoin="miter"/>
<path d="M568.90 381.70 L569.60 376.70 L570.30 381.70Z" fill="#000" stroke="#000" stroke-width="0.6" stroke-linejoin="miter"/>
<path d="M586.05 381.70 L586.70 346.00 L587.35 381.70Z" fill="#000" stroke="#000" stroke-width="0.6" stroke-linejoin="miter"/>
<path d="M411.05 381.70 L411.05 273.70 L412.35 273.70 L412.35 381.70Z" fill="#000"/>
<path d="M411.20 381.70 L411.70 294.00 L412.20 381.70Z" fill="#000" stroke="#000" stroke-width="0.6" stroke-linejoin="miter"/>
<text x="419.40" y="255.20" font-size="11" text-anchor="middle" fill="#000" font-weight="bold">y<tspan font-size="8" dy="2.8">2</tspan></text>
<text x="419.30" y="268.20" font-size="11" text-anchor="middle" fill="#000" font-weight="bold" font-style="normal" >263.1389</text>
<text x="458.50" y="308.60" font-size="11" text-anchor="middle" fill="#1a1aff" font-weight="bold">y<tspan font-size="8" dy="2.8">3</tspan></text>
<text x="458.30" y="322.30" font-size="11" text-anchor="middle" fill="#1a1aff" font-weight="bold" font-style="normal" >378.1628</text>
<line x1="457.20" y1="325.80" x2="450.40" y2="375.00" stroke="#333" stroke-width="0.8" />
<text x="506.20" y="343.00" font-size="11" text-anchor="middle" fill="#000" font-weight="bold">b<tspan font-size="8" dy="2.8">4</tspan></text>
<text x="505.90" y="355.50" font-size="11" text-anchor="middle" fill="#000" font-weight="bold" font-style="normal" >534.2651</text>
<text x="538.00" y="288.00" font-size="11" text-anchor="middle" fill="#000" font-weight="bold">b<tspan font-size="8" dy="2.8">5</tspan></text>
<text x="537.90" y="300.70" font-size="11" text-anchor="middle" fill="#000" font-weight="bold" font-style="normal" >647.3505</text>
<line x1="537.30" y1="304.00" x2="545.80" y2="370.50" stroke="#333" stroke-width="0.8" />
<text x="586.80" y="326.50" font-size="11" text-anchor="middle" fill="#1a1aff" font-weight="bold">b<tspan font-size="8" dy="2.8">6</tspan></text>
<text x="586.60" y="339.80" font-size="11" text-anchor="middle" fill="#1a1aff" font-weight="bold" font-style="normal" >762.3763</text>
<text x="6.60" y="426.60" font-size="21.5" text-anchor="start" fill="#000" font-weight="bold" font-style="normal" >(e)</text>
<line x1="43.70" y1="460.80" x2="43.70" y2="581.80" stroke="#4a4a4a" stroke-width="1.1" />
<line x1="40.70" y1="473.80" x2="43.70" y2="473.80" stroke="#4a4a4a" stroke-width="1.0" />
<text x="39.40" y="478.10" font-size="10.5" text-anchor="end" fill="#000" font-weight="bold" font-style="normal" >100</text>
<line x1="40.70" y1="526.10" x2="43.70" y2="526.10" stroke="#4a4a4a" stroke-width="1.0" />
<text x="39.40" y="530.40" font-size="10.5" text-anchor="end" fill="#000" font-weight="bold" font-style="normal" >50</text>
<line x1="40.70" y1="581.90" x2="43.70" y2="581.90" stroke="#4a4a4a" stroke-width="1.0" />
<text x="39.40" y="586.20" font-size="10.5" text-anchor="end" fill="#000" font-weight="bold" font-style="normal" >0</text>
<path d="M43.15 580.60 Q43.15 581.80 44.90 581.80 H316.70" stroke="#111" fill="none" stroke-width="1.7" />
<line x1="54.42" y1="581.80" x2="54.42" y2="585.10" stroke="#222" stroke-width="1.0" />
<line x1="65.50" y1="581.80" x2="65.50" y2="586.80" stroke="#222" stroke-width="1.0" />
<text x="65.50" y="600.60" font-size="10.5" text-anchor="middle" fill="#000" font-weight="bold" font-style="normal" >512</text>
<line x1="76.58" y1="581.80" x2="76.58" y2="585.10" stroke="#222" stroke-width="1.0" />
<line x1="87.67" y1="581.80" x2="87.67" y2="585.10" stroke="#222" stroke-width="1.0" />
<line x1="98.75" y1="581.80" x2="98.75" y2="585.10" stroke="#222" stroke-width="1.0" />
<line x1="109.84" y1="581.80" x2="109.84" y2="585.10" stroke="#222" stroke-width="1.0" />
<line x1="120.92" y1="581.80" x2="120.92" y2="586.80" stroke="#222" stroke-width="1.0" />
<text x="120.92" y="600.60" font-size="10.5" text-anchor="middle" fill="#000" font-weight="bold" font-style="normal" >513</text>
<line x1="132.00" y1="581.80" x2="132.00" y2="585.10" stroke="#222" stroke-width="1.0" />
<line x1="143.09" y1="581.80" x2="143.09" y2="585.10" stroke="#222" stroke-width="1.0" />
<line x1="154.17" y1="581.80" x2="154.17" y2="585.10" stroke="#222" stroke-width="1.0" />
<line x1="165.26" y1="581.80" x2="165.26" y2="585.10" stroke="#222" stroke-width="1.0" />
<line x1="176.34" y1="581.80" x2="176.34" y2="586.80" stroke="#222" stroke-width="1.0" />
<text x="176.34" y="600.60" font-size="10.5" text-anchor="middle" fill="#000" font-weight="bold" font-style="normal" >514</text>
<line x1="187.42" y1="581.80" x2="187.42" y2="585.10" stroke="#222" stroke-width="1.0" />
<line x1="198.51" y1="581.80" x2="198.51" y2="585.10" stroke="#222" stroke-width="1.0" />
<line x1="209.59" y1="581.80" x2="209.59" y2="585.10" stroke="#222" stroke-width="1.0" />
<line x1="220.68" y1="581.80" x2="220.68" y2="585.10" stroke="#222" stroke-width="1.0" />
<line x1="231.76" y1="581.80" x2="231.76" y2="586.80" stroke="#222" stroke-width="1.0" />
<text x="231.76" y="600.60" font-size="10.5" text-anchor="middle" fill="#000" font-weight="bold" font-style="normal" >515</text>
<line x1="242.84" y1="581.80" x2="242.84" y2="585.10" stroke="#222" stroke-width="1.0" />
<line x1="253.93" y1="581.80" x2="253.93" y2="585.10" stroke="#222" stroke-width="1.0" />
<line x1="265.01" y1="581.80" x2="265.01" y2="585.10" stroke="#222" stroke-width="1.0" />
<line x1="276.10" y1="581.80" x2="276.10" y2="585.10" stroke="#222" stroke-width="1.0" />
<line x1="287.18" y1="581.80" x2="287.18" y2="586.80" stroke="#222" stroke-width="1.0" />
<text x="287.18" y="600.60" font-size="10.5" text-anchor="middle" fill="#000" font-weight="bold" font-style="normal" >516</text>
<line x1="298.26" y1="581.80" x2="298.26" y2="585.10" stroke="#222" stroke-width="1.0" />
<line x1="309.35" y1="581.80" x2="309.35" y2="585.10" stroke="#222" stroke-width="1.0" />
<text x="-44.8" y="0" font-size="9.8" textLength="89.6" lengthAdjust="spacingAndGlyphs" font-weight="bold" stroke="#000" stroke-width="0.22" transform="translate(16.70,518.00) rotate(-90)">Relative intensity (%)</text>
<text x="171.70" y="614.80" font-size="9.3" text-anchor="middle" fill="#000" font-weight="bold" font-style="italic" >m/z</text>
<path d="M49.90 581.50 L51.15 579.80 L51.65 579.80 L52.90 581.50Z" fill="#000"/>
<path d="M78.90 581.50 L79.10 563.90 L79.90 563.90 L80.10 581.50Z" fill="#000"/>
<path d="M78.00 581.50 L79.10 575.50 M81.00 581.50 L79.90 575.50" stroke="#000" stroke-width="0.8" fill="none"/>
<path d="M106.00 581.50 L106.35 566.00 L107.65 566.00 L108.00 581.50Z" fill="#000"/>
<path d="M105.50 581.50 L106.35 576.50 M108.50 581.50 L107.65 576.50" stroke="#000" stroke-width="0.8" fill="none"/>
<path d="M133.60 581.50 L134.00 572.60 L135.20 572.60 L135.60 581.50Z" fill="#000"/>
<path d="M161.85 581.50 L162.05 473.60 L162.95 473.60 L163.15 581.50Z" fill="#000"/>
<path d="M160.80 581.50 L162.05 571.50 M164.20 581.50 L162.95 571.50" stroke="#000" stroke-width="0.8" fill="none"/>
<path d="M189.25 581.50 L189.50 523.60 L190.50 523.60 L190.75 581.50Z" fill="#000"/>
<path d="M188.40 581.50 L189.50 573.50 M191.60 581.50 L190.50 573.50" stroke="#000" stroke-width="0.8" fill="none"/>
<path d="M217.30 581.50 L217.55 554.30 L218.45 554.30 L218.70 581.50Z" fill="#000"/>
<path d="M216.50 581.50 L217.55 575.50 M219.50 581.50 L218.45 575.50" stroke="#000" stroke-width="0.8" fill="none"/>
<path d="M244.60 581.50 L245.10 567.40 L246.10 567.40 L246.60 581.50Z" fill="#000"/>
<path d="M272.30 581.50 L273.00 575.30 L274.00 575.30 L274.70 581.50Z" fill="#000"/>
<path d="M299.90 581.50 L300.70 578.20 L301.50 578.20 L302.30 581.50Z" fill="#000"/>
<text x="162.20" y="467.60" font-size="11" text-anchor="middle" fill="#ff1aff" font-weight="bold" font-style="normal" >513.7617</text>
<text x="76.20" y="539.90" font-size="11" text-anchor="middle" fill="#000" font-weight="bold" font-style="normal" >512.2675</text>
<text x="110.70" y="561.30" font-size="11" text-anchor="middle" fill="#000" font-weight="bold" font-style="normal" >512.7622</text>
<text x="193.10" y="516.70" font-size="11" text-anchor="middle" fill="#000" font-weight="bold" font-style="normal" >514.2631</text>
<text x="220.60" y="549.00" font-size="11" text-anchor="middle" fill="#000" font-weight="bold" font-style="normal" >514.7642</text>
<text x="248.00" y="562.20" font-size="11" text-anchor="middle" fill="#000" font-weight="bold" font-style="normal" >515.2642</text>
<line x1="77.80" y1="546.50" x2="79.20" y2="560.00" stroke="#333" stroke-width="0.8" />
<line x1="106.50" y1="489.00" x2="159.00" y2="489.00" stroke="#ff8a8a" stroke-width="1.2" />
<circle cx="107.2" cy="489.0" r="1.3" fill="#ff3030"/>
<circle cx="158.4" cy="489.0" r="1.3" fill="#ff3030"/>
<text x="106.00" y="507.80" font-size="11" text-anchor="start" fill="#ff2020" font-weight="bold" font-style="italic" >Δm/z</text>
<rect x="135.5" y="501.6" width="8.4" height="1.5" fill="#ff2020"/>
<rect x="135.5" y="504.0" width="8.4" height="1.5" fill="#ff2020"/>
<circle cx="137.2" cy="500.2" r="0.85" fill="#ff2020"/>
<circle cx="142.2" cy="506.9" r="0.85" fill="#ff2020"/>
<text x="150.40" y="507.80" font-size="11" text-anchor="middle" fill="#ff2020" font-weight="bold" font-style="normal" >1</text>
<text x="356.40" y="427.00" font-size="21.5" text-anchor="start" fill="#000" font-weight="bold" font-style="normal" >(f)</text>
<line x1="389.50" y1="455.50" x2="389.50" y2="586.90" stroke="#4a4a4a" stroke-width="1.1" />
<line x1="386.50" y1="472.90" x2="389.50" y2="472.90" stroke="#4a4a4a" stroke-width="1.0" />
<text x="385.20" y="477.20" font-size="10.5" text-anchor="end" fill="#000" font-weight="bold" font-style="normal" >100</text>
<line x1="386.50" y1="525.70" x2="389.50" y2="525.70" stroke="#4a4a4a" stroke-width="1.0" />
<text x="385.20" y="530.00" font-size="10.5" text-anchor="end" fill="#000" font-weight="bold" font-style="normal" >50</text>
<line x1="386.50" y1="581.90" x2="389.50" y2="581.90" stroke="#4a4a4a" stroke-width="1.0" />
<text x="385.20" y="586.20" font-size="10.5" text-anchor="end" fill="#000" font-weight="bold" font-style="normal" >0</text>
<line x1="389.50" y1="581.90" x2="655.60" y2="581.90" stroke="#111" stroke-width="1.7" />
<text x="389.60" y="599.70" font-size="10.5" text-anchor="middle" fill="#000" font-weight="bold" font-style="normal" >200</text>
<line x1="396.60" y1="581.90" x2="396.60" y2="585.20" stroke="#222" stroke-width="1.0" />
<line x1="403.60" y1="581.90" x2="403.60" y2="585.20" stroke="#222" stroke-width="1.0" />
<line x1="410.60" y1="581.90" x2="410.60" y2="585.20" stroke="#222" stroke-width="1.0" />
<line x1="417.60" y1="581.90" x2="417.60" y2="585.20" stroke="#222" stroke-width="1.0" />
<line x1="424.60" y1="581.90" x2="424.60" y2="586.90" stroke="#222" stroke-width="1.0" />
<text x="424.60" y="599.70" font-size="10.5" text-anchor="middle" fill="#000" font-weight="bold" font-style="normal" >300</text>
<line x1="431.60" y1="581.90" x2="431.60" y2="585.20" stroke="#222" stroke-width="1.0" />
<line x1="438.60" y1="581.90" x2="438.60" y2="585.20" stroke="#222" stroke-width="1.0" />
<line x1="445.60" y1="581.90" x2="445.60" y2="585.20" stroke="#222" stroke-width="1.0" />
<line x1="452.60" y1="581.90" x2="452.60" y2="585.20" stroke="#222" stroke-width="1.0" />
<line x1="459.60" y1="581.90" x2="459.60" y2="586.90" stroke="#222" stroke-width="1.0" />
<text x="459.60" y="599.70" font-size="10.5" text-anchor="middle" fill="#000" font-weight="bold" font-style="normal" >400</text>
<line x1="466.60" y1="581.90" x2="466.60" y2="585.20" stroke="#222" stroke-width="1.0" />
<line x1="473.60" y1="581.90" x2="473.60" y2="585.20" stroke="#222" stroke-width="1.0" />
<line x1="480.60" y1="581.90" x2="480.60" y2="585.20" stroke="#222" stroke-width="1.0" />
<line x1="487.60" y1="581.90" x2="487.60" y2="585.20" stroke="#222" stroke-width="1.0" />
<line x1="494.60" y1="581.90" x2="494.60" y2="586.90" stroke="#222" stroke-width="1.0" />
<text x="494.60" y="599.70" font-size="10.5" text-anchor="middle" fill="#000" font-weight="bold" font-style="normal" >500</text>
<line x1="501.60" y1="581.90" x2="501.60" y2="585.20" stroke="#222" stroke-width="1.0" />
<line x1="508.60" y1="581.90" x2="508.60" y2="585.20" stroke="#222" stroke-width="1.0" />
<line x1="515.60" y1="581.90" x2="515.60" y2="585.20" stroke="#222" stroke-width="1.0" />
<line x1="522.60" y1="581.90" x2="522.60" y2="585.20" stroke="#222" stroke-width="1.0" />
<line x1="529.60" y1="581.90" x2="529.60" y2="586.90" stroke="#222" stroke-width="1.0" />
<text x="529.60" y="599.70" font-size="10.5" text-anchor="middle" fill="#000" font-weight="bold" font-style="normal" >600</text>
<line x1="536.60" y1="581.90" x2="536.60" y2="585.20" stroke="#222" stroke-width="1.0" />
<line x1="543.60" y1="581.90" x2="543.60" y2="585.20" stroke="#222" stroke-width="1.0" />
<line x1="550.60" y1="581.90" x2="550.60" y2="585.20" stroke="#222" stroke-width="1.0" />
<line x1="557.60" y1="581.90" x2="557.60" y2="585.20" stroke="#222" stroke-width="1.0" />
<line x1="564.60" y1="581.90" x2="564.60" y2="586.90" stroke="#222" stroke-width="1.0" />
<text x="564.60" y="599.70" font-size="10.5" text-anchor="middle" fill="#000" font-weight="bold" font-style="normal" >700</text>
<line x1="571.60" y1="581.90" x2="571.60" y2="585.20" stroke="#222" stroke-width="1.0" />
<line x1="578.60" y1="581.90" x2="578.60" y2="585.20" stroke="#222" stroke-width="1.0" />
<line x1="585.60" y1="581.90" x2="585.60" y2="585.20" stroke="#222" stroke-width="1.0" />
<line x1="592.60" y1="581.90" x2="592.60" y2="585.20" stroke="#222" stroke-width="1.0" />
<line x1="599.60" y1="581.90" x2="599.60" y2="586.90" stroke="#222" stroke-width="1.0" />
<text x="599.60" y="599.70" font-size="10.5" text-anchor="middle" fill="#000" font-weight="bold" font-style="normal" >800</text>
<line x1="606.60" y1="581.90" x2="606.60" y2="585.20" stroke="#222" stroke-width="1.0" />
<line x1="613.60" y1="581.90" x2="613.60" y2="585.20" stroke="#222" stroke-width="1.0" />
<line x1="620.60" y1="581.90" x2="620.60" y2="585.20" stroke="#222" stroke-width="1.0" />
<line x1="627.60" y1="581.90" x2="627.60" y2="585.20" stroke="#222" stroke-width="1.0" />
<line x1="634.60" y1="581.90" x2="634.60" y2="586.90" stroke="#222" stroke-width="1.0" />
<text x="634.60" y="599.70" font-size="10.5" text-anchor="middle" fill="#000" font-weight="bold" font-style="normal" >900</text>
<line x1="641.60" y1="581.90" x2="641.60" y2="585.20" stroke="#222" stroke-width="1.0" />
<line x1="648.60" y1="581.90" x2="648.60" y2="585.20" stroke="#222" stroke-width="1.0" />
<line x1="655.60" y1="581.90" x2="655.60" y2="585.20" stroke="#222" stroke-width="1.0" />
<text x="-44.8" y="0" font-size="9.8" textLength="89.6" lengthAdjust="spacingAndGlyphs" font-weight="bold" stroke="#000" stroke-width="0.22" transform="translate(362.00,517.20) rotate(-90)">Relative intensity (%)</text>
<text x="525.10" y="618.60" font-size="9.3" text-anchor="middle" fill="#000" font-weight="bold" font-style="italic" >m/z</text>
<path d="M392.50 581.90 L393.50 575.50 L394.50 581.90Z" fill="#000" stroke="#000" stroke-width="0.6" stroke-linejoin="miter"/>
<path d="M395.40 581.90 L396.00 579.00 L396.60 581.90Z" fill="#000" stroke="#000" stroke-width="0.6" stroke-linejoin="miter"/>
<path d="M398.40 581.90 L399.20 577.40 L400.00 581.90Z" fill="#000" stroke="#000" stroke-width="0.6" stroke-linejoin="miter"/>
<path d="M400.40 581.90 L401.10 578.50 L401.80 581.90Z" fill="#000" stroke="#000" stroke-width="0.6" stroke-linejoin="miter"/>
<path d="M405.00 581.90 L405.70 577.40 L406.40 581.90Z" fill="#000" stroke="#000" stroke-width="0.6" stroke-linejoin="miter"/>
<path d="M406.75 581.90 L407.40 560.40 L408.05 581.90Z" fill="#000" stroke="#000" stroke-width="0.6" stroke-linejoin="miter"/>
<path d="M413.20 581.90 L414.00 570.20 L414.80 581.90Z" fill="#000" stroke="#000" stroke-width="0.6" stroke-linejoin="miter"/>
<path d="M417.40 581.90 L418.00 580.00 L418.60 581.90Z" fill="#000" stroke="#000" stroke-width="0.6" stroke-linejoin="miter"/>
<path d="M420.40 581.90 L421.00 579.50 L421.60 581.90Z" fill="#000" stroke="#000" stroke-width="0.6" stroke-linejoin="miter"/>
<path d="M423.85 581.90 L424.50 575.70 L425.15 581.90Z" fill="#000" stroke="#000" stroke-width="0.6" stroke-linejoin="miter"/>
<path d="M429.40 581.90 L430.00 579.50 L430.60 581.90Z" fill="#000" stroke="#000" stroke-width="0.6" stroke-linejoin="miter"/>
<path d="M432.55 581.90 L433.30 576.10 L434.05 581.90Z" fill="#000" stroke="#000" stroke-width="0.6" stroke-linejoin="miter"/>
<path d="M435.40 581.90 L436.00 578.50 L436.60 581.90Z" fill="#000" stroke="#000" stroke-width="0.6" stroke-linejoin="miter"/>
<path d="M437.85 581.90 L438.60 573.90 L439.35 581.90Z" fill="#000" stroke="#000" stroke-width="0.6" stroke-linejoin="miter"/>
<path d="M442.55 581.90 L443.20 569.20 L443.85 581.90Z" fill="#000" stroke="#000" stroke-width="0.6" stroke-linejoin="miter"/>
<path d="M447.70 581.90 L448.40 574.40 L449.10 581.90Z" fill="#000" stroke="#000" stroke-width="0.6" stroke-linejoin="miter"/>
<path d="M451.40 581.90 L452.10 577.40 L452.80 581.90Z" fill="#000" stroke="#000" stroke-width="0.6" stroke-linejoin="miter"/>
<path d="M455.70 581.90 L456.30 579.50 L456.90 581.90Z" fill="#000" stroke="#000" stroke-width="0.6" stroke-linejoin="miter"/>
<path d="M459.40 581.90 L460.00 579.80 L460.60 581.90Z" fill="#000" stroke="#000" stroke-width="0.6" stroke-linejoin="miter"/>
<path d="M468.90 581.90 L469.50 579.80 L470.10 581.90Z" fill="#000" stroke="#000" stroke-width="0.6" stroke-linejoin="miter"/>
<path d="M479.00 581.90 L479.60 579.50 L480.20 581.90Z" fill="#000" stroke="#000" stroke-width="0.6" stroke-linejoin="miter"/>
<path d="M489.50 581.90 L490.10 579.50 L490.70 581.90Z" fill="#000" stroke="#000" stroke-width="0.6" stroke-linejoin="miter"/>
<path d="M495.15 581.90 L495.80 573.90 L496.45 581.90Z" fill="#000" stroke="#000" stroke-width="0.6" stroke-linejoin="miter"/>
<path d="M498.65 581.90 L499.30 574.40 L499.95 581.90Z" fill="#000" stroke="#000" stroke-width="0.6" stroke-linejoin="miter"/>
<path d="M504.95 581.90 L505.60 563.40 L506.25 581.90Z" fill="#000" stroke="#000" stroke-width="0.6" stroke-linejoin="miter"/>
<path d="M511.40 581.90 L512.00 579.50 L512.60 581.90Z" fill="#000" stroke="#000" stroke-width="0.6" stroke-linejoin="miter"/>
<path d="M519.10 581.90 L519.70 579.00 L520.30 581.90Z" fill="#000" stroke="#000" stroke-width="0.6" stroke-linejoin="miter"/>
<path d="M528.85 581.90 L529.50 577.40 L530.15 581.90Z" fill="#000" stroke="#000" stroke-width="0.6" stroke-linejoin="miter"/>
<path d="M535.05 581.90 L535.70 568.20 L536.35 581.90Z" fill="#000" stroke="#000" stroke-width="0.6" stroke-linejoin="miter"/>
<path d="M538.80 581.90 L539.40 579.00 L540.00 581.90Z" fill="#000" stroke="#000" stroke-width="0.6" stroke-linejoin="miter"/>
<path d="M544.55 581.90 L545.30 571.80 L546.05 581.90Z" fill="#000" stroke="#000" stroke-width="0.6" stroke-linejoin="miter"/>
<path d="M551.25 581.90 L551.90 577.40 L552.55 581.90Z" fill="#000" stroke="#000" stroke-width="0.6" stroke-linejoin="miter"/>
<path d="M560.05 581.90 L560.70 576.50 L561.35 581.90Z" fill="#000" stroke="#000" stroke-width="0.6" stroke-linejoin="miter"/>
<path d="M564.40 581.90 L565.00 579.50 L565.60 581.90Z" fill="#000" stroke="#000" stroke-width="0.6" stroke-linejoin="miter"/>
<path d="M570.40 581.90 L571.00 579.00 L571.60 581.90Z" fill="#000" stroke="#000" stroke-width="0.6" stroke-linejoin="miter"/>
<path d="M574.40 581.90 L575.00 579.00 L575.60 581.90Z" fill="#000" stroke="#000" stroke-width="0.6" stroke-linejoin="miter"/>
<path d="M579.40 581.90 L580.00 579.00 L580.60 581.90Z" fill="#000" stroke="#000" stroke-width="0.6" stroke-linejoin="miter"/>
<path d="M585.55 581.90 L586.20 555.10 L586.85 581.90Z" fill="#000" stroke="#000" stroke-width="0.6" stroke-linejoin="miter"/>
<path d="M586.50 581.90 L587.50 572.00 L588.50 581.90Z" fill="#000" stroke="#000" stroke-width="0.6" stroke-linejoin="miter"/>
<path d="M410.65 581.90 L410.65 473.80 L411.95 473.80 L411.95 581.90Z" fill="#000"/>
<path d="M410.80 581.90 L411.30 494.00 L411.80 581.90Z" fill="#000" stroke="#000" stroke-width="0.6" stroke-linejoin="miter"/>
<text x="418.70" y="455.10" font-size="11" text-anchor="middle" fill="#000" font-weight="bold">y<tspan font-size="8" dy="2.8">2</tspan></text>
<text x="418.20" y="468.30" font-size="11" text-anchor="middle" fill="#000" font-weight="bold" font-style="normal" >263.1388</text>
<text x="458.00" y="509.00" font-size="11" text-anchor="middle" fill="#ff1aff" font-weight="bold">y<tspan font-size="8" dy="2.8">3</tspan></text>
<text x="457.70" y="522.30" font-size="11" text-anchor="middle" fill="#ff1aff" font-weight="bold" font-style="normal" >380.1695</text>
<line x1="455.30" y1="524.80" x2="452.60" y2="577.40" stroke="#333" stroke-width="0.8" />
<text x="506.20" y="542.50" font-size="11" text-anchor="middle" fill="#000" font-weight="bold">b<tspan font-size="8" dy="2.8">4</tspan></text>
<text x="506.00" y="556.60" font-size="11" text-anchor="middle" fill="#000" font-weight="bold" font-style="normal" >534.2661</text>
<text x="538.00" y="488.00" font-size="11" text-anchor="middle" fill="#000" font-weight="bold">b<tspan font-size="8" dy="2.8">5</tspan></text>
<text x="537.90" y="501.00" font-size="11" text-anchor="middle" fill="#000" font-weight="bold" font-style="normal" >647.3506</text>
<line x1="537.30" y1="504.60" x2="545.00" y2="570.80" stroke="#333" stroke-width="0.8" />
<text x="585.40" y="535.60" font-size="11" text-anchor="middle" fill="#ff1aff" font-weight="bold">b<tspan font-size="8" dy="2.8">6</tspan></text>
<text x="585.00" y="548.70" font-size="11" text-anchor="middle" fill="#ff1aff" font-weight="bold" font-style="normal" >764.3798</text>
<text x="534.20" y="44.40" font-size="20" text-anchor="middle" fill="#000" font-weight="bold" font-style="normal" >D</text>
<text x="556.00" y="44.40" font-size="20" text-anchor="middle" fill="#000" font-weight="bold" font-style="normal" >R</text>
<text x="574.90" y="44.40" font-size="20" text-anchor="middle" fill="#000" font-weight="bold" font-style="normal" >V</text>
<text x="593.50" y="44.40" font-size="20" text-anchor="middle" fill="#000" font-weight="bold" font-style="normal" >Y</text>
<text x="609.00" y="44.40" font-size="20" text-anchor="middle" fill="#000" font-weight="bold" font-style="normal" >I</text>
<text x="624.80" y="44.40" font-size="20" text-anchor="middle" fill="#ff0000" font-weight="bold" font-style="normal" >N</text>
<text x="644.30" y="44.40" font-size="20" text-anchor="middle" fill="#000" font-weight="bold" font-style="normal" >P</text>
<text x="662.40" y="44.40" font-size="20" text-anchor="middle" fill="#000" font-weight="bold" font-style="normal" >F</text>
<path d="M594.4 23 H601.9 V40.3" stroke="#2a2a2a" fill="none" stroke-width="1.25" />
<path d="M608.9 23 H616.0 V53.3 H623.3" stroke="#2a2a2a" fill="none" stroke-width="1.25" />
<path d="M629.5 23 H636.0 V53.3 H643.0" stroke="#2a2a2a" fill="none" stroke-width="1.25" />
<text x="595.40" y="16.00" font-size="11" text-anchor="middle" fill="#000" font-weight="bold">b<tspan font-size="8" dy="2.8">4</tspan></text>
<text x="611.80" y="16.00" font-size="11" text-anchor="middle" fill="#000" font-weight="bold">b<tspan font-size="8" dy="2.8">5</tspan></text>
<text x="630.70" y="16.00" font-size="11" text-anchor="middle" fill="#000" font-weight="bold">b<tspan font-size="8" dy="2.8">6</tspan></text>
<text x="622.40" y="65.10" font-size="11" text-anchor="middle" fill="#000" font-weight="bold">y<tspan font-size="8" dy="2.8">3</tspan></text>
<text x="641.00" y="65.10" font-size="11" text-anchor="middle" fill="#000" font-weight="bold">y<tspan font-size="8" dy="2.8">2</tspan></text>
<text x="526.10" y="243.10" font-size="20" text-anchor="middle" fill="#000" font-weight="bold" font-style="normal" >D</text>
<text x="546.80" y="243.10" font-size="20" text-anchor="middle" fill="#000" font-weight="bold" font-style="normal" >R</text>
<text x="566.20" y="243.10" font-size="20" text-anchor="middle" fill="#000" font-weight="bold" font-style="normal" >V</text>
<text x="584.80" y="243.10" font-size="20" text-anchor="middle" fill="#000" font-weight="bold" font-style="normal" >Y</text>
<text x="599.80" y="243.10" font-size="20" text-anchor="middle" fill="#000" font-weight="bold" font-style="normal" >I</text>
<text x="615.20" y="243.10" font-size="20" text-anchor="middle" fill="#ff0000" font-weight="bold" font-style="normal" >D</text>
<text x="660.00" y="243.10" font-size="20" text-anchor="middle" fill="#000" font-weight="bold" font-style="normal" >P</text>
<text x="679.60" y="243.10" font-size="20" text-anchor="middle" fill="#000" font-weight="bold" font-style="normal" >F</text>
<text x="623.0" y="242.7" font-size="13.5" fill="#1a1aff" font-weight="bold">(<tspan font-size="8" dy="-3.5">16</tspan><tspan dy="3.5">O)</tspan></text>
<path d="M585.9 221.7 H592.5 V239.2" stroke="#2a2a2a" fill="none" stroke-width="1.25" />
<path d="M599.6 221.6 H606.8 V251.4 H613.5" stroke="#2a2a2a" fill="none" stroke-width="1.25" />
<path d="M644.9 221.6 H652.3 V251.4 H659.2" stroke="#2a2a2a" fill="none" stroke-width="1.25" />
<text x="586.50" y="214.80" font-size="11" text-anchor="middle" fill="#000" font-weight="bold">b<tspan font-size="8" dy="2.8">4</tspan></text>
<text x="603.40" y="214.40" font-size="11" text-anchor="middle" fill="#000" font-weight="bold">b<tspan font-size="8" dy="2.8">5</tspan></text>
<text x="646.90" y="214.40" font-size="11" text-anchor="middle" fill="#000" font-weight="bold">b<tspan font-size="8" dy="2.8">6</tspan></text>
<text x="612.10" y="264.60" font-size="11" text-anchor="middle" fill="#000" font-weight="bold">y<tspan font-size="8" dy="2.8">3</tspan></text>
<text x="657.10" y="264.60" font-size="11" text-anchor="middle" fill="#000" font-weight="bold">y<tspan font-size="8" dy="2.8">2</tspan></text>
<text x="524.80" y="461.20" font-size="20" text-anchor="middle" fill="#000" font-weight="bold" font-style="normal" >D</text>
<text x="545.80" y="461.20" font-size="20" text-anchor="middle" fill="#000" font-weight="bold" font-style="normal" >R</text>
<text x="565.20" y="461.20" font-size="20" text-anchor="middle" fill="#000" font-weight="bold" font-style="normal" >V</text>
<text x="583.70" y="461.20" font-size="20" text-anchor="middle" fill="#000" font-weight="bold" font-style="normal" >Y</text>
<text x="598.70" y="461.20" font-size="20" text-anchor="middle" fill="#000" font-weight="bold" font-style="normal" >I</text>
<text x="614.60" y="461.20" font-size="20" text-anchor="middle" fill="#ff0000" font-weight="bold" font-style="normal" >D</text>
<text x="659.30" y="461.20" font-size="20" text-anchor="middle" fill="#000" font-weight="bold" font-style="normal" >P</text>
<text x="677.40" y="461.20" font-size="20" text-anchor="middle" fill="#000" font-weight="bold" font-style="normal" >F</text>
<text x="622.0" y="460.8" font-size="13.5" fill="#ff1aff" font-weight="bold">(<tspan font-size="8" dy="-3.5">18</tspan><tspan dy="3.5">O)</tspan></text>
<path d="M585.2 440.0 H591.8 V457.0" stroke="#2a2a2a" fill="none" stroke-width="1.25" />
<path d="M598.4 439.6 H605.4 V469.6 H612.4" stroke="#2a2a2a" fill="none" stroke-width="1.25" />
<path d="M644.1 439.6 H651.4 V469.6 H657.3" stroke="#2a2a2a" fill="none" stroke-width="1.25" />
<text x="585.40" y="432.30" font-size="11" text-anchor="middle" fill="#000" font-weight="bold">b<tspan font-size="8" dy="2.8">4</tspan></text>
<text x="602.20" y="432.30" font-size="11" text-anchor="middle" fill="#000" font-weight="bold">b<tspan font-size="8" dy="2.8">5</tspan></text>
<text x="645.80" y="432.30" font-size="11" text-anchor="middle" fill="#000" font-weight="bold">b<tspan font-size="8" dy="2.8">6</tspan></text>
<text x="610.90" y="482.30" font-size="11" text-anchor="middle" fill="#000" font-weight="bold">y<tspan font-size="8" dy="2.8">3</tspan></text>
<text x="655.10" y="482.30" font-size="11" text-anchor="middle" fill="#000" font-weight="bold">y<tspan font-size="8" dy="2.8">2</tspan></text>
</svg>
</body></html>
